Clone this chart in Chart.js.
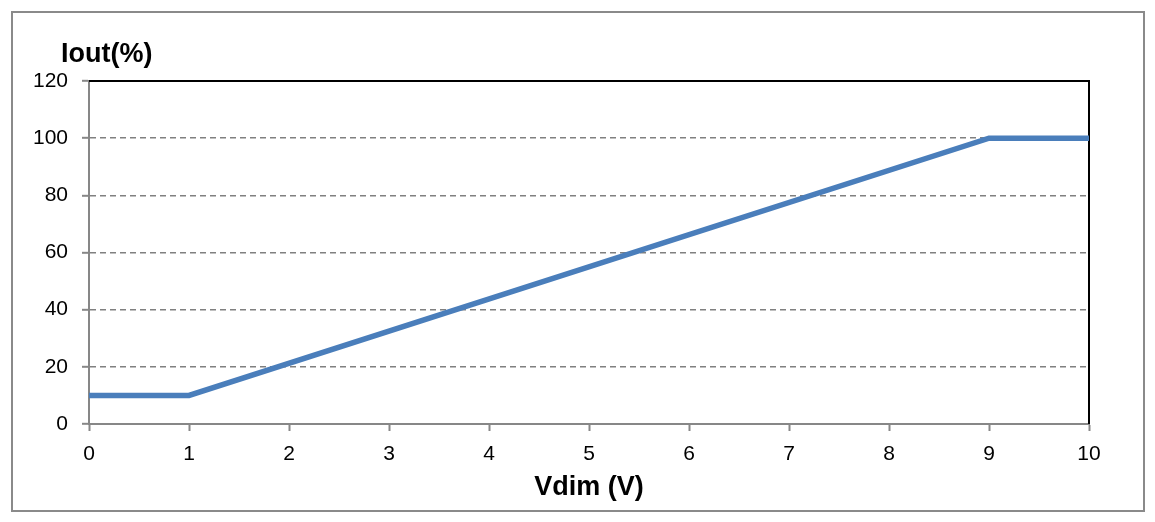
<!DOCTYPE html>
<html lang="en">
<head>
    <meta charset="UTF-8">
    <title>Iout vs Vdim</title>
    <style>
        body {
            margin: 0;
            background-color: #ffffff;
        }

        #wrap {
            width: 1155px;
            height: 522px;
            position: relative;
        }
    </style>
</head>
<body>
    <div id="wrap"><canvas id="dimChart"></canvas></div>

    <script src="https://cdn.jsdelivr.net/npm/chart.js"></script>
    <script>
        // curve
        const vdim = [0, 1, 9, 10];
        const iout = [10, 10, 100, 100];
        const xTicks = [0, 1, 2, 3, 4, 5, 6, 7, 8, 9, 10];
        const yTicks = [0, 20, 40, 60, 80, 100, 120];

        const FONT = '"Liberation Sans", Arial, sans-serif';
        const GREY = '#878787';

        // outer box, top/right frame lines and the horizontal y title
        const framePlugin = {
            id: 'frame',
            beforeDraw(chart) {
                const ctx = chart.ctx;
                ctx.save();
                ctx.fillStyle = '#ffffff';
                ctx.fillRect(0, 0, chart.width, chart.height);
                ctx.strokeStyle = '#8a8a8a';
                ctx.lineWidth = 2;
                ctx.strokeRect(12, 12, 1132, 499);
                ctx.restore();
            },
            beforeDatasetsDraw(chart) {
                const a = chart.chartArea;
                const ctx = chart.ctx;
                ctx.save();
                ctx.strokeStyle = '#000000';
                ctx.lineWidth = 2;
                ctx.beginPath();
                ctx.moveTo(a.left, a.top);
                ctx.lineTo(a.right, a.top);
                ctx.lineTo(a.right, a.bottom);
                ctx.stroke();
                ctx.restore();
            },
            afterDraw(chart) {
                const ctx = chart.ctx;
                ctx.save();
                ctx.fillStyle = '#000000';
                ctx.font = 'bold 27px ' + FONT;
                ctx.textAlign = 'left';
                ctx.textBaseline = 'alphabetic';
                ctx.fillText('Iout(%)', 61, 62);
                ctx.restore();
            }
        };

        new Chart(document.getElementById('dimChart').getContext('2d'), {
            type: 'scatter',
            data: {
                datasets: [{
                    data: vdim.map((v, i) => ({ x: v, y: iout[i] })),
                    showLine: true,
                    borderColor: '#4a7ebb',
                    borderWidth: 5.5,
                    pointRadius: 0,
                    borderJoinStyle: 'miter',
                    borderCapStyle: 'butt'
                }]
            },
            options: {
                responsive: true,
                maintainAspectRatio: false,
                animation: false,
                layout: { padding: { top: 81, right: 66, left: 0, bottom: 0 } },
                plugins: {
                    legend: { display: false },
                    tooltip: { enabled: false }
                },
                scales: {
                    x: {
                        type: 'linear',
                        min: xTicks[0],
                        max: xTicks[xTicks.length - 1],
                        afterFit(scale) { scale.height = 98; },
                        afterBuildTicks(scale) { scale.ticks = xTicks.map(v => ({ value: v })); },
                        border: { color: GREY, width: 2 },
                        grid: {
                            drawOnChartArea: false,
                            drawTicks: true,
                            tickLength: 7,
                            tickColor: GREY,
                            tickWidth: 2
                        },
                        ticks: {
                            color: '#000000',
                            padding: 11,
                            maxRotation: 0,
                            font: { family: FONT, size: 21 }
                        },
                        title: {
                            display: true,
                            text: 'Vdim (V)',
                            color: '#000000',
                            font: { family: FONT, size: 27, weight: 'bold' },
                            padding: { top: 0, bottom: 18 }
                        }
                    },
                    y: {
                        min: yTicks[0],
                        max: yTicks[yTicks.length - 1],
                        afterFit(scale) { scale.width = 89; },
                        afterBuildTicks(scale) { scale.ticks = yTicks.map(v => ({ value: v })); },
                        border: { color: GREY, width: 2, dash: [6, 4] },
                        grid: {
                            color: c => (c.tick && (c.tick.value === 0 || c.tick.value === 120)) ? 'rgba(0,0,0,0)' : '#808080',
                            lineWidth: 1.6,
                            tickBorderDash: [],
                            tickLength: 7,
                            tickColor: GREY,
                            tickWidth: 2
                        },
                        ticks: {
                            color: '#000000',
                            padding: 14,
                            font: { family: FONT, size: 21 }
                        }
                    }
                }
            },
            plugins: [framePlugin]
        });
    </script>
</body>
</html>
